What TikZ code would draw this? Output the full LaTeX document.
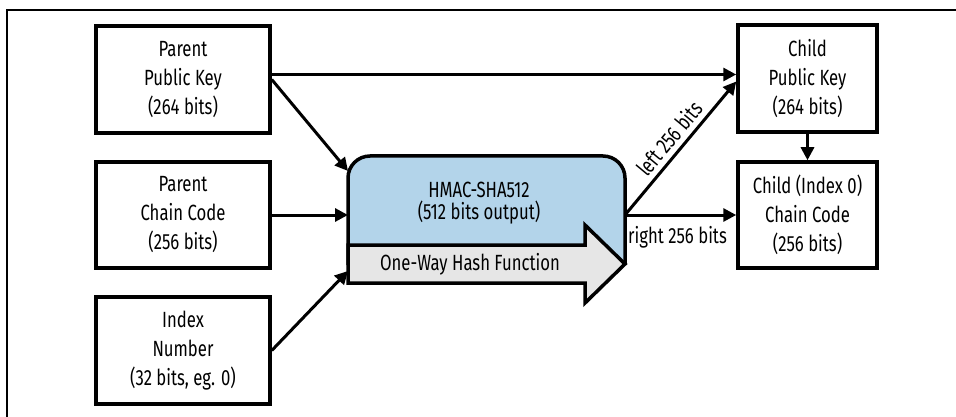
\documentclass[tikz,border=0pt]{standalone}
\usepackage{fontspec}
\setmainfont[FakeStretch=0.76]{Fira Sans}
\usetikzlibrary{arrows.meta}
\definecolor{hblue}{HTML}{B3D4EA}
\definecolor{hgray}{HTML}{E6E6E6}
\tikzset{
  box/.style={draw, line width=3.5pt, inner sep=0pt, align=center,
    font=\fontsize{22}{29}\selectfont},
  lbl/.style={inner sep=0pt, align=center, font=\fontsize{22}{22}\selectfont},
  arr/.style={line width=3pt, -{Triangle[length=13pt,width=13pt]}},
  frame/.style={line width=1.5pt}
}
\begin{document}
\begin{tikzpicture}[x=1pt,y=-1pt]
\useasboundingbox (0,0) rectangle (956,417);
\draw[frame] (7,417) -- (7,10) -- (956,10);

% left boxes
\node[box, minimum width=174pt, minimum height=107pt] (ppk) at (183,79.5) {Parent\\Public Key\\(264 bits)};
\node[box, minimum width=174pt, minimum height=106pt] (pcc) at (183,215) {Parent\\Chain Code\\(256 bits)};
\node[box, minimum width=174pt, minimum height=107pt] (idx) at (183,350.5) {Index\\Number\\(32 bits, eg. 0)};

% right boxes
\node[box, minimum width=139pt, minimum height=107pt] (cpk) at (807.5,78.5) {Child\\Public Key\\(264 bits)};
\node[box, minimum width=139pt, minimum height=106pt] (ccc) at (807.5,215) {Child (Index 0)\\Chain Code\\(256 bits)};

% HMAC block
\draw[line width=3.5pt, fill=hblue, rounded corners=22pt]
  (348,265) -- (348,156) -- (625,156) -- (625,265);
\draw[line width=3.5pt, fill=hgray, line join=miter]
  (348,245) -- (585,245) -- (585,225) -- (625,264) -- (585,303) -- (585,283) -- (348,283) -- cycle;
\node[inner sep=0pt, minimum width=277pt, minimum height=108pt] (hmac) at (486.5,210) {};
\node[lbl] (htext) at (479,203) {HMAC-SHA512\\(512 bits output)};
\node[lbl] (owhf) at (470,264) {One-Way Hash Function};

\coordinate (hin1) at (348,171);
\coordinate (hin2) at (348,215);
\coordinate (hin3) at (348,271);
\coordinate (hout) at (625,215);

% connectors
\draw[arr] ([yshift=5pt]ppk.east) -- ([yshift=5pt]ppk.east -| cpk.west);
\draw[arr] (ppk.east) -- (hin1);
\draw[arr] (pcc.east) -- (hin2);
\draw[arr] (idx.east) -- (hin3);
\draw[arr] (hout) -- node[lbl, sloped, above=5pt] {left 256 bits} ([yshift=-3pt]cpk.west);
\draw[arr] (hout) -- (hout -| ccc.west);
\node[lbl, anchor=north west] (rlbl) at (628,226) {right 256 bits};
\draw[arr] (cpk.south) -- (ccc.north);
\end{tikzpicture}
\end{document}
